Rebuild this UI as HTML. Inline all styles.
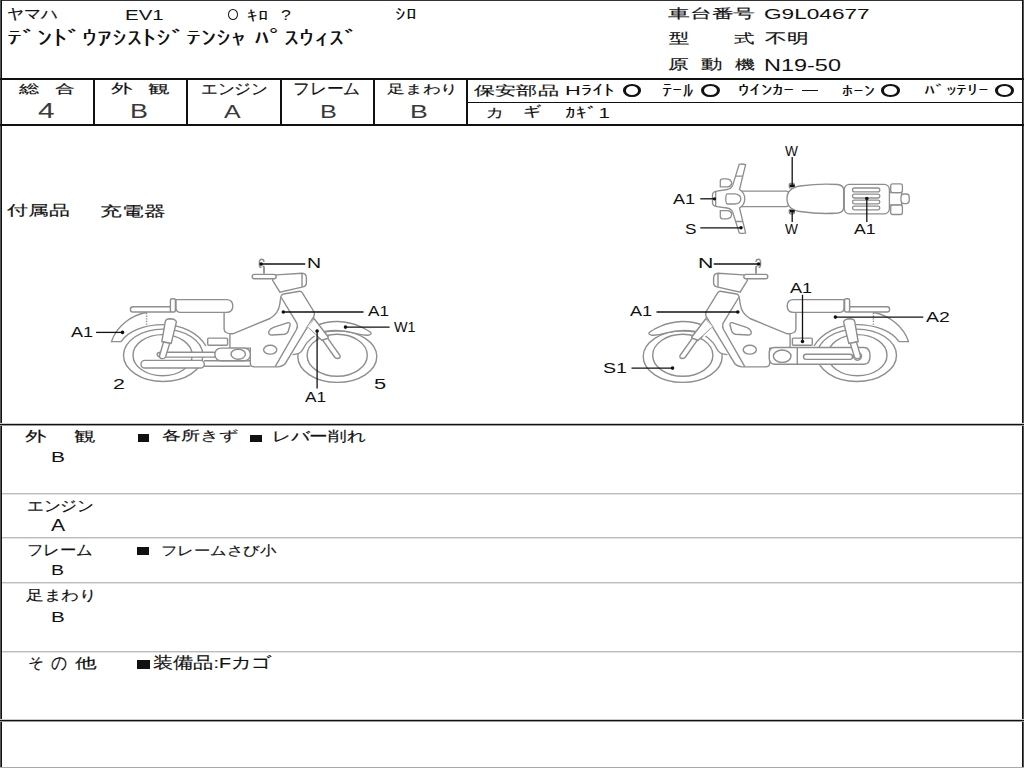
<!DOCTYPE html>
<html><head><meta charset="utf-8">
<style>
*{margin:0;padding:0;box-sizing:border-box}
body{width:1024px;height:768px;position:relative;overflow:hidden;background:#fff;font-family:"Liberation Sans",sans-serif;color:#111}
.l{position:absolute;background:#111}
.g{position:absolute;background:#bdbdbd;height:1px;left:2px;width:1020px}
.t{position:absolute;white-space:pre;line-height:1;transform-origin:0 0}
.o{position:absolute;border:solid #111;border-width:2.3px 3px;border-radius:50%}
.sq{position:absolute;background:#111}
svg{position:absolute;left:0;top:0}
</style></head><body>
<div class="l" style="left:0;top:0;width:1024px;height:1px;background:#333"></div>
<div class="l" style="left:0;top:0;width:1px;height:768px;background:#555"></div>
<div class="l" style="left:1px;top:0;width:1px;height:768px"></div>
<div class="l" style="left:1022px;top:0;width:1px;height:768px"></div>
<div class="l" style="left:1023px;top:0;width:1px;height:768px;background:#555"></div>
<div class="l" style="left:0;top:767px;width:1024px;height:1px;background:#aaa"></div>
<div class="l" style="left:0;top:78px;width:1024px;height:2px"></div>
<div class="l" style="left:467px;top:102px;width:556px;height:1px"></div>
<div class="l" style="left:0;top:124px;width:1024px;height:2px"></div>
<div class="l" style="left:0;top:424px;width:1024px;height:1px"></div>
<div class="l" style="left:0;top:425px;width:1024px;height:1px;background:#999"></div>
<div class="l" style="left:0;top:423px;width:1024px;height:1px;background:#ccc"></div>
<div class="l" style="left:0;top:720px;width:1024px;height:1px"></div>
<div class="l" style="left:0;top:721px;width:1024px;height:1px;background:#999"></div>
<div class="l" style="left:0;top:719px;width:1024px;height:1px;background:#ccc"></div>
<div class="g" style="top:493px"></div>
<div class="g" style="top:494px;background:#e2e2e2"></div>
<div class="g" style="top:537px"></div>
<div class="g" style="top:538px;background:#e2e2e2"></div>
<div class="g" style="top:582px"></div>
<div class="g" style="top:583px;background:#e2e2e2"></div>
<div class="g" style="top:651px"></div>
<div class="g" style="top:652px;background:#e2e2e2"></div>
<div class="l" style="left:93px;top:78px;width:2px;height:48px"></div>
<div class="l" style="left:186px;top:78px;width:2px;height:48px"></div>
<div class="l" style="left:280px;top:78px;width:2px;height:48px"></div>
<div class="l" style="left:373px;top:78px;width:2px;height:48px"></div>
<div class="l" style="left:466px;top:78px;width:2px;height:48px"></div>
<div class="l" style="left:802px;top:89.5px;width:15.5px;height:1.6px"></div>
<div class="sq" style="left:137.5px;top:433.5px;width:11.7px;height:8.2px"></div>
<div class="sq" style="left:250px;top:434.6px;width:11.7px;height:7.5px"></div>
<div class="sq" style="left:137.3px;top:547.2px;width:11.9px;height:7.9px"></div>
<div class="sq" style="left:137.3px;top:660px;width:13.2px;height:9.1px"></div>
<div class="o" style="left:622.6px;top:84.1px;width:18.4px;height:12.8px"></div>
<div class="o" style="left:701px;top:84.1px;width:18.9px;height:12.8px"></div>
<div class="o" style="left:881.3px;top:84.1px;width:18.7px;height:12.5px"></div>
<div class="o" style="left:995.1px;top:84.1px;width:18.9px;height:12.5px"></div>
<div style="position:absolute;left:228.1px;top:8.7px;width:10.3px;height:11.4px;border:1.9px solid #111;border-radius:50%"></div>

<svg width="1024" height="768" viewBox="0 0 1024 768">
<defs>
<g id="tires" fill="none" stroke="#8e8e8e" stroke-width="1.4">
  <ellipse cx="163.2" cy="355.3" rx="39.7" ry="26.2"/>
  <ellipse cx="162.6" cy="355.2" rx="29.6" ry="20.6"/>
  <ellipse cx="337.3" cy="356.6" rx="39.5" ry="25.8"/>
  <ellipse cx="337.2" cy="355.3" rx="30.1" ry="21"/>
</g>
<g id="body" stroke="#8e8e8e" stroke-width="1.4" fill="#fff">
  <!-- rear fender -->
  <path d="M121,341.6 H111.5 C116,327 130,315.5 147,312.3" fill="none"/>
  <path d="M121,341.6 C128,331 145,324.6 163,324.6 C182,324.6 198,333 206,346" fill="none"/>
  <line x1="146.6" y1="313" x2="146.6" y2="325.5" stroke-dasharray="1.3 1.3"/>
  <!-- body under seat & main frame -->
  <path d="M224.1,312.3 V329.3 Q224.5,334 232.8,333.8 L270,318.5 Q278.5,313.5 279.8,304 Q280.5,298.5 281,296.4 Q281.8,294.2 283.5,294 L299.7,291.3 Q301.3,291.2 302.2,292.6 L313.8,311.5 Q315,314 313.6,316.9 L286.9,360.9 Q284.5,366.5 278,366.9 H254.7 Q250.3,366.9 250.3,363 V348.1 H229.9 V333.8" fill="#fff"/>
  <!-- column inner edge -->
  <path d="M281.3,297.5 L297.1,323.6 Q298,326.5 296.5,329.5 L275.2,366.6" fill="none"/>
  <!-- rack -->
  <rect x="130.4" y="306.8" width="42" height="5.2" rx="2.6"/>
  <rect x="170.4" y="298.8" width="5" height="13.2" rx="1.5"/>
  <!-- seat -->
  <path d="M176,299.6 H226.5 Q232.8,299.6 232.8,306 Q232.8,312.4 226.5,312.4 H180.5 Q176,312.4 176,308 Z"/>
  <!-- small rect -->
  <rect x="207.7" y="338.1" width="19.9" height="7.2" rx="1"/>
  <!-- holes -->
  <path d="M268.8,331.5 Q268,335.3 272.5,335 L284.5,334.2 Q287.3,333.8 288.3,331 L290,325.3 Q290.6,322 287.2,322.8 L273.5,327.3 Q270,328.6 268.8,331.5 Z"/>
  <ellipse cx="270.2" cy="349.7" rx="6.6" ry="4.4"/>
  <!-- headlight -->
  <path d="M276.5,274.9 L302,273.3 Q306.4,273.5 306.4,278 V282.5 Q306.4,286.5 302,287.1 L279.9,292.1 L272.7,280.5 Q272.3,275.5 276.5,274.9 Z"/>
  <line x1="302" y1="273.6" x2="302" y2="286.8"/>
  <rect x="252.2" y="274.4" width="24" height="4.4" rx="2.2"/>
  <path d="M264,273.8 V267.5 Q264,266 262.5,266.5" fill="none" stroke-width="1.8"/>
  <path d="M261.5,267.5 Q259.3,267.5 259.3,264 Q259.3,259.3 261.5,259.3 Q264,259.3 264,262" fill="none"/>
  <!-- front fender -->
  <path d="M317,325.5 Q326,321.3 338,321.5 Q350,322 359.3,326.2 Q366,329 370.5,332.3 Q372.5,334.5 368,335.2 Q362,335.5 354.4,333.1 Q346,330.6 336,330.5 Q324,330.8 316,334 Z"/>
  <!-- fork -->
  <path d="M307.3,327 L314,318.5 L328.4,337.2 Q327.5,339.5 322,340.6 Z"/>
  <path d="M322.5,340 L327.8,338.3 L340,355.5 Q340.8,358.5 337.5,358.5 Q335.5,358.5 334.5,357 Z"/>
  <path d="M314.6,317.3 L291.3,355.5 L292.5,355.2 Q300.5,354.3 302.8,349.5 Q306.5,341.5 314.5,336 L317.5,336.5 L307.3,327 Z" stroke="none"/>
  <path d="M314.5,336 Q306.5,341.5 302.8,349.5 Q300.5,354.3 292.5,354.6" fill="none"/>
</g>
<g id="shock" stroke="#8e8e8e" stroke-width="1.4" fill="#fff">
  <path d="M165.3,321.5 Q166,318.8 170,318.8 Q175.5,319 176.4,322 L171.2,343.5 L161.8,341.8 Z"/>
  <path d="M163.5,342 L169.8,343.3 L165.5,357 Q164.5,359 161.5,358.6 Q159,358 159.6,355.5 Z"/>
</g>
</defs>
<use href="#tires"/>
<use href="#body"/>
<!-- left-bike only: swingarm, muffler, engine case -->
<g stroke="#8e8e8e" stroke-width="1.4" fill="#fff">
  <rect x="158" y="352.3" width="58" height="4.8" rx="2.4"/>
  <path d="M204,360.8 H250.3 M204,366.3 H250.3" fill="none"/>
  <rect x="141" y="360.4" width="63.3" height="7.6" rx="3.8"/>
  <rect x="214.9" y="348.1" width="35.4" height="12.7" rx="6"/>
  <ellipse cx="238.2" cy="354.2" rx="7.2" ry="5"/>
  <circle cx="158.8" cy="354.5" r="1.7"/>
</g>
<use href="#shock"/>
<!-- right bike mirrored -->
<g transform="translate(1020,0) scale(-1,1)">
  <use href="#tires"/>
  <use href="#body"/>
</g>
<!-- right-bike only: swingarm case -->
<g stroke="#8e8e8e" stroke-width="1.4" fill="#fff">
  <path d="M775,347.5 H864 Q870,347.5 870,355.8 Q870,364.2 864,364.2 H775 Q769.2,364.2 769.2,358 V353.5 Q769.2,347.5 775,347.5 Z"/>
  <line x1="797.3" y1="347.5" x2="797.3" y2="364.2"/>
  <ellipse cx="782.2" cy="356.2" rx="8.8" ry="6.2"/>
  <rect x="803.5" y="354.2" width="49" height="5.2" rx="2.6"/>
  <circle cx="857.5" cy="356.2" r="4"/>
</g>
<g transform="translate(1020,0) scale(-1,1)"><use href="#shock"/></g>
<!-- top view -->
<g stroke="#8e8e8e" stroke-width="1.3" fill="#fff">
  <rect x="736" y="191.1" width="53" height="15.5" rx="3"/>
  <path d="M720.3,186.8 V181 Q720.3,178.8 722.8,178.8 H726.5 Q731.7,179.3 731.7,183.5 Q731,186.5 727.5,186.8 Z"/>
  <path d="M720.3,210.6 V216.6 Q720.3,218.9 722.8,218.9 H726.5 Q731.7,218.4 731.7,214 Q731,210.9 727.5,210.6 Z"/>
  <path d="M739.2,164.4 Q742.4,163.5 745.6,164.6 L739.5,189.5 Q744.8,193 744.8,198.7 Q744.8,204.5 739.5,208 L745.6,232.8 Q742.4,234 739.2,232.8 L732.8,212.5 Q731,208.5 727,208 L716.8,206.6 Q712.5,206 712.5,203 V195 Q712.5,191.8 716.8,191.1 L727,189.5 Q731,189 732.8,185 Z"/>
  <path d="M735.5,176.2 H742.8 M735.6,221.5 H742.8 M715.7,191.8 V206" fill="none"/>
  <path d="M727.5,193.8 H735 Q740.8,194.5 740.8,198.9 Q740.8,203.3 735,204 H727.5 Q725.8,204 725.8,199 Q725.8,193.8 727.5,193.8 Z"/>
  <path d="M787,198.7 Q787,188 800,186 Q820,183.2 838,184.5 Q843.6,185.5 843.6,190 V207.5 Q843.6,212.2 838,213 Q820,214.5 800,211.5 Q787,209.5 787,198.7 Z"/>
  <rect x="889.4" y="192.6" width="12.3" height="12.4"/>
  <rect x="901" y="194" width="8.2" height="9.6" rx="3"/>
  <rect x="890.7" y="183.8" width="11.7" height="8.8" rx="2"/>
  <rect x="890.7" y="205" width="11.7" height="9.5" rx="2"/>
  <rect x="844.3" y="184.4" width="45.1" height="29.4" rx="5"/>
  <rect x="852.5" y="188" width="27.3" height="3.8" rx="1.9"/>
  <rect x="852.5" y="194.2" width="27.3" height="3.8" rx="1.9"/>
  <rect x="852.5" y="200.2" width="27.3" height="3.6" rx="1.8"/>
  <rect x="852.5" y="206.2" width="27.3" height="3.6" rx="1.8"/>
  <rect x="789.3" y="183.5" width="5" height="4.4" rx="1"/>
  <rect x="789.3" y="209.4" width="5" height="4.4" rx="1"/>
</g>
<!-- label leader lines -->
<g stroke="#111" stroke-width="1.3" fill="#111">
  <line x1="96.1" y1="332.4" x2="122.9" y2="332.4"/><circle cx="122.5" cy="332.4" r="1.8" stroke="none"/>
  <line x1="260.5" y1="264" x2="305.2" y2="264"/><circle cx="261.2" cy="264" r="1.8" stroke="none"/>
  <line x1="282.3" y1="312" x2="363.5" y2="312"/><circle cx="283.3" cy="312" r="1.8" stroke="none"/>
  <line x1="344.8" y1="327.1" x2="389.6" y2="327.1"/><circle cx="345.5" cy="327.1" r="1.8" stroke="none"/>
  <line x1="317.1" y1="330.5" x2="317.1" y2="388.5"/><circle cx="317.1" cy="331" r="1.8" stroke="none"/>
  <line x1="713.75" y1="264" x2="759.6" y2="264"/><circle cx="758.6" cy="264" r="1.8" stroke="none"/>
  <line x1="656.5" y1="312" x2="738.75" y2="312"/><circle cx="737.8" cy="312" r="1.8" stroke="none"/>
  <line x1="631.5" y1="368.1" x2="673.1" y2="368.1"/><circle cx="672.5" cy="368.1" r="1.8" stroke="none"/>
  <line x1="802.5" y1="294.8" x2="802.5" y2="341.7"/><circle cx="802.5" cy="341.5" r="1.8" stroke="none"/>
  <line x1="834.8" y1="317.1" x2="923.3" y2="317.1"/><circle cx="835.4" cy="317.1" r="1.8" stroke="none"/>
  <line x1="792.2" y1="157.1" x2="792.2" y2="186"/><rect x="789.8" y="184.5" width="4.8" height="2.5" stroke="none"/>
  <line x1="792.2" y1="210" x2="792.2" y2="222"/><rect x="789.8" y="210" width="4.8" height="2.5" stroke="none"/>
  <line x1="700.3" y1="198.8" x2="714.9" y2="198.8"/><circle cx="714.5" cy="198.8" r="1.6" stroke="none"/>
  <line x1="700.3" y1="227.8" x2="741.6" y2="227.8"/><circle cx="741" cy="227.8" r="1.8" stroke="none"/>
  <line x1="866.8" y1="198.1" x2="866.8" y2="222"/><circle cx="866.8" cy="198.5" r="1.8" stroke="none"/>
</g>
</svg>

<div class="t" style="left:6.82px;top:6.19px;font-size:15.27px;transform:scaleX(1.119);-webkit-text-stroke:0.15px #111;">ヤマハ</div>
<div class="t" style="left:124.96px;top:8.04px;font-size:14.43px;transform:scaleX(1.421);">EV1</div>
<div class="t" style="left:246.60px;top:7.81px;font-size:15.19px;transform:scaleX(1.385);">ｷﾛ</div>
<div class="t" style="left:280.52px;top:7.39px;font-size:15.43px;transform:scaleX(1.146);">?</div>
<div class="t" style="left:394.81px;top:5.88px;font-size:16.14px;transform:scaleX(1.346);">ｼﾛ</div>
<div class="t" style="left:6.74px;top:29.11px;font-size:19.54px;transform:scaleX(1.494);">ﾃﾞﾝﾄﾞｳｱｼｽﾄｼﾞﾃﾝｼｬ ﾊﾟｽｳｨｽﾞ</div>
<div class="t" style="left:668.46px;top:7.93px;font-size:12.89px;transform:scaleX(1.675);-webkit-text-stroke:0.15px #111;">車台番号</div>
<div class="t" style="left:763.67px;top:6.31px;font-size:15.29px;transform:scaleX(1.481);">G9L04677</div>
<div class="t" style="left:668.99px;top:31.19px;font-size:14.22px;transform:scaleX(1.444);-webkit-text-stroke:0.15px #111;">型</div>
<div class="t" style="left:734.29px;top:32.48px;font-size:13.00px;transform:scaleX(1.576);-webkit-text-stroke:0.15px #111;">式</div>
<div class="t" style="left:764.76px;top:31.50px;font-size:13.95px;transform:scaleX(1.556);-webkit-text-stroke:0.15px #111;">不明</div>
<div class="t" style="left:667.94px;top:56.92px;font-size:14.33px;transform:scaleX(1.473);-webkit-text-stroke:0.15px #111;">原</div>
<div class="t" style="left:701.27px;top:57.81px;font-size:13.84px;transform:scaleX(1.534);-webkit-text-stroke:0.15px #111;">動</div>
<div class="t" style="left:735.30px;top:58.17px;font-size:13.00px;transform:scaleX(1.534);-webkit-text-stroke:0.15px #111;">機</div>
<div class="t" style="left:764.49px;top:57.98px;font-size:16.79px;transform:scaleX(1.398);">N19-50</div>
<div class="t" style="left:19.30px;top:83.39px;font-size:12.22px;transform:scaleX(1.713);-webkit-text-stroke:0.15px #111;">総</div>
<div class="t" style="left:55.30px;top:83.65px;font-size:11.95px;transform:scaleX(1.669);-webkit-text-stroke:0.15px #111;">合</div>
<div class="t" style="left:37.66px;top:100.71px;font-size:21.29px;transform:scaleX(1.400);color:#3a3a3a;">4</div>
<div class="t" style="left:111.27px;top:83.11px;font-size:12.81px;transform:scaleX(1.656);-webkit-text-stroke:0.15px #111;">外</div>
<div class="t" style="left:148.25px;top:83.39px;font-size:12.22px;transform:scaleX(1.801);-webkit-text-stroke:0.15px #111;">観</div>
<div class="t" style="left:130.18px;top:101.99px;font-size:19.43px;transform:scaleX(1.385);color:#3a3a3a;">B</div>
<div class="t" style="left:200.67px;top:82.03px;font-size:14.81px;transform:scaleX(1.109);-webkit-text-stroke:0.15px #111;">エンジン</div>
<div class="t" style="left:223.70px;top:102.35px;font-size:19.00px;transform:scaleX(1.312);color:#3a3a3a;">A</div>
<div class="t" style="left:293.25px;top:81.40px;font-size:15.69px;transform:scaleX(1.050);-webkit-text-stroke:0.15px #111;">フレーム</div>
<div class="t" style="left:319.90px;top:102.35px;font-size:19.00px;transform:scaleX(1.330);color:#3a3a3a;">B</div>
<div class="t" style="left:387.06px;top:84.16px;font-size:11.84px;transform:scaleX(1.482);-webkit-text-stroke:0.15px #111;">足まわり</div>
<div class="t" style="left:409.50px;top:101.73px;font-size:19.14px;transform:scaleX(1.396);color:#3a3a3a;">B</div>
<div class="t" style="left:473.76px;top:84.30px;font-size:13.13px;transform:scaleX(1.631);-webkit-text-stroke:0.15px #111;">保安部品</div>
<div class="t" style="left:565.36px;top:83.57px;font-size:13.70px;transform:scaleX(1.592);">Hﾗｲﾄ</div>
<div class="t" style="left:661.63px;top:82.97px;font-size:17.87px;transform:scaleX(1.145);">ﾃｰﾙ</div>
<div class="t" style="left:738.44px;top:84.23px;font-size:13.64px;transform:scaleX(1.624);">ｳｲﾝｶｰ</div>
<div class="t" style="left:842.16px;top:84.25px;font-size:14.06px;transform:scaleX(1.542);">ﾎｰﾝ</div>
<div class="t" style="left:923.95px;top:83.91px;font-size:13.60px;transform:scaleX(1.540);">ﾊﾞｯﾃﾘｰ</div>
<div class="t" style="left:485.61px;top:106.33px;font-size:13.12px;transform:scaleX(1.361);-webkit-text-stroke:0.15px #111;">カ</div>
<div class="t" style="left:523.19px;top:105.07px;font-size:13.53px;transform:scaleX(1.301);-webkit-text-stroke:0.15px #111;">ギ</div>
<div class="t" style="left:565.27px;top:105.63px;font-size:14.82px;transform:scaleX(1.394);">ｶｷﾞ1</div>
<div class="t" style="left:7.26px;top:203.38px;font-size:14.38px;transform:scaleX(1.494);-webkit-text-stroke:0.15px #111;">付属品</div>
<div class="t" style="left:99.71px;top:203.75px;font-size:14.00px;transform:scaleX(1.554);-webkit-text-stroke:0.15px #111;">充電器</div>
<div class="t" style="left:24.96px;top:429.40px;font-size:14.05px;transform:scaleX(1.535);-webkit-text-stroke:0.15px #111;">外</div>
<div class="t" style="left:74.16px;top:429.40px;font-size:14.05px;transform:scaleX(1.535);-webkit-text-stroke:0.15px #111;">観</div>
<div class="t" style="left:51.13px;top:449.79px;font-size:14.71px;transform:scaleX(1.421);">B</div>
<div class="t" style="left:161.69px;top:429.37px;font-size:13.17px;transform:scaleX(1.465);-webkit-text-stroke:0.15px #111;">各所きず</div>
<div class="t" style="left:271.62px;top:429.14px;font-size:14.36px;transform:scaleX(1.336);-webkit-text-stroke:0.15px #111;">レバー削れ</div>
<div class="t" style="left:26.57px;top:498.69px;font-size:14.75px;transform:scaleX(1.112);-webkit-text-stroke:0.15px #111;">エンジン</div>
<div class="t" style="left:51.40px;top:517.74px;font-size:15.71px;transform:scaleX(1.351);">A</div>
<div class="t" style="left:27.29px;top:543.49px;font-size:14.75px;transform:scaleX(1.093);-webkit-text-stroke:0.15px #111;">フレーム</div>
<div class="t" style="left:160.52px;top:543.57px;font-size:13.26px;transform:scaleX(1.263);-webkit-text-stroke:0.15px #111;">フレームさび小</div>
<div class="t" style="left:51.03px;top:561.80px;font-size:15.36px;transform:scaleX(1.273);">B</div>
<div class="t" style="left:25.61px;top:588.35px;font-size:14.00px;transform:scaleX(1.264);-webkit-text-stroke:0.15px #111;">足まわり</div>
<div class="t" style="left:50.95px;top:610.18px;font-size:14.79px;transform:scaleX(1.396);">B</div>
<div class="t" style="left:28.14px;top:656.10px;font-size:14.78px;transform:scaleX(1.050);-webkit-text-stroke:0.15px #111;">そ</div>
<div class="t" style="left:50.79px;top:653.66px;font-size:18.21px;transform:scaleX(0.885);-webkit-text-stroke:0.15px #111;">の</div>
<div class="t" style="left:75.10px;top:656.23px;font-size:14.38px;transform:scaleX(1.544);-webkit-text-stroke:0.15px #111;">他</div>
<div class="t" style="left:153.27px;top:655.11px;font-size:15.53px;transform:scaleX(1.263);-webkit-text-stroke:0.15px #111;">装備品:Fカゴ</div>
<div class="t" style="left:70.75px;top:324.20px;font-size:15.36px;transform:scaleX(1.178);">A1</div>
<div class="t" style="left:112.83px;top:377.07px;font-size:14.86px;transform:scaleX(1.436);">2</div>
<div class="t" style="left:307.24px;top:256.18px;font-size:14.79px;transform:scaleX(1.317);">N</div>
<div class="t" style="left:368.30px;top:304.01px;font-size:14.93px;transform:scaleX(1.152);">A1</div>
<div class="t" style="left:393.75px;top:319.67px;font-size:14.86px;transform:scaleX(0.968);">W1</div>
<div class="t" style="left:304.70px;top:389.09px;font-size:15.43px;transform:scaleX(1.120);">A1</div>
<div class="t" style="left:373.91px;top:376.97px;font-size:14.86px;transform:scaleX(1.474);">5</div>
<div class="t" style="left:698.10px;top:256.41px;font-size:14.29px;transform:scaleX(1.491);">N</div>
<div class="t" style="left:630.00px;top:304.01px;font-size:14.93px;transform:scaleX(1.211);">A1</div>
<div class="t" style="left:603.12px;top:360.48px;font-size:15.14px;transform:scaleX(1.297);">S1</div>
<div class="t" style="left:789.60px;top:281.05px;font-size:14.00px;transform:scaleX(1.293);">A1</div>
<div class="t" style="left:926.25px;top:309.48px;font-size:15.14px;transform:scaleX(1.284);">A2</div>
<div class="t" style="left:785.30px;top:143.23px;font-size:15.14px;transform:scaleX(0.904);">W</div>
<div class="t" style="left:785.45px;top:221.88px;font-size:14.79px;transform:scaleX(0.926);">W</div>
<div class="t" style="left:673.20px;top:191.79px;font-size:14.71px;transform:scaleX(1.226);">A1</div>
<div class="t" style="left:685.44px;top:221.94px;font-size:14.71px;transform:scaleX(1.170);">S</div>
<div class="t" style="left:854.25px;top:221.06px;font-size:15.29px;transform:scaleX(1.155);">A1</div>
</body></html>
